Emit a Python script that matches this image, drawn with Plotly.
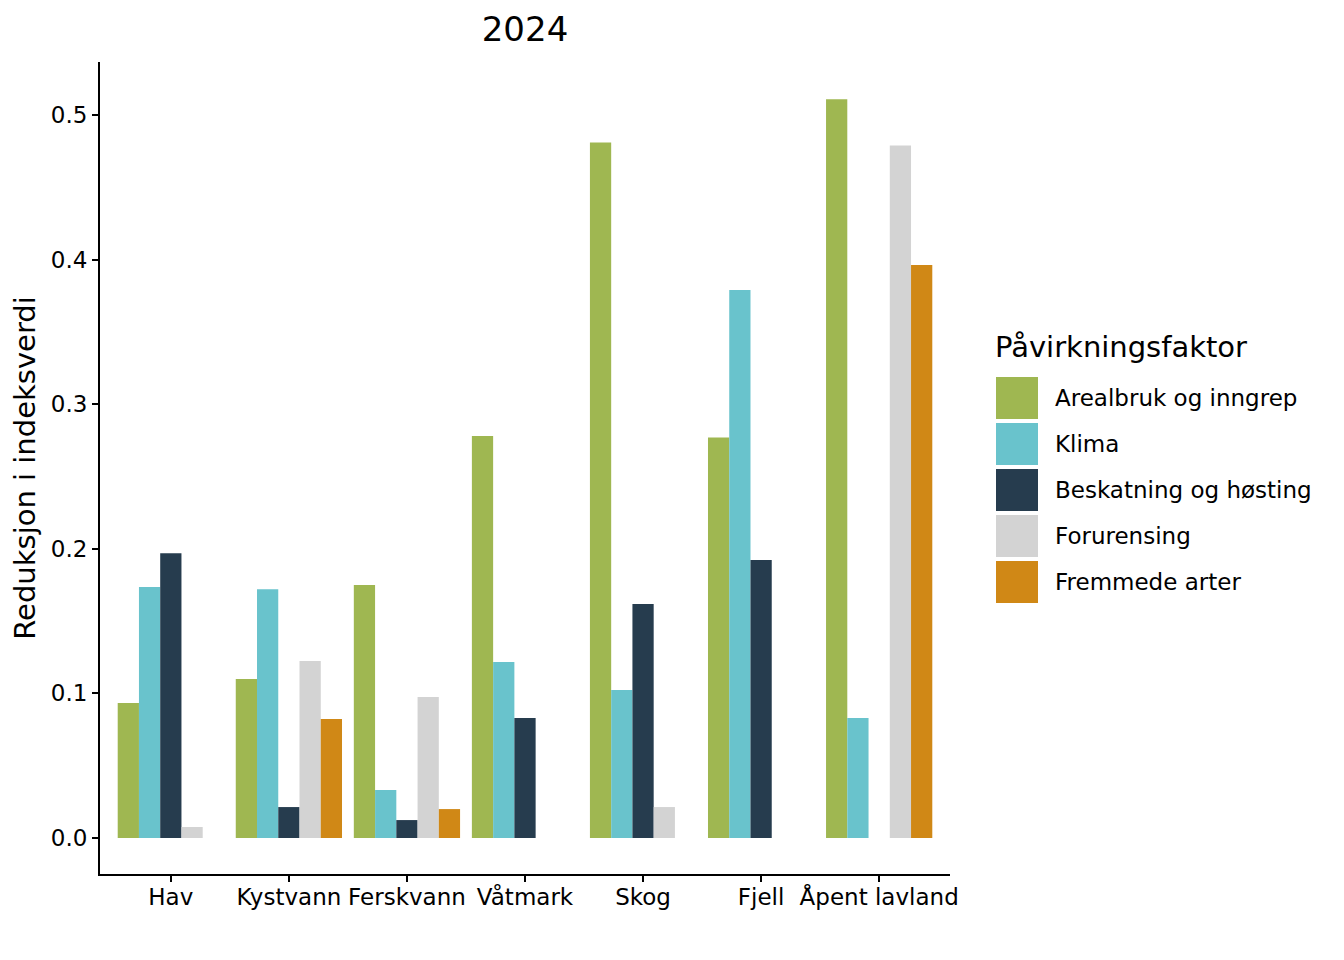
import plotly.graph_objects as go

categories = ["Hav", "Kystvann", "Ferskvann", "Våtmark", "Skog", "Fjell", "Åpent lavland"]
factors = ["Arealbruk og inngrep", "Klima", "Beskatning og høsting", "Forurensing", "Fremmede arter"]
colors = ["#9FB751", "#69C3CC", "#263C4E", "#D3D3D3", "#D08816"]

arealbruk = [0.0934, 0.110, 0.175, 0.278, 0.481, 0.277, 0.511]
klima = [0.1736, 0.172, 0.0332, 0.1217, 0.1023, 0.379, 0.083]
beskatning = [0.197, 0.0214, 0.0124, 0.083, 0.1618, 0.1923, None]
forurensing = [0.0076, 0.1224, 0.0975, None, 0.0214, None, 0.479]
fremmede = [None, 0.0823, 0.020, None, None, None, 0.3963]

series = [arealbruk, klima, beskatning, forurensing, fremmede]

W, H = 1344, 960
OFF = 8  # page body offset
l, t = 100 - OFF, 62 - OFF
pw, ph = 850, 812
r, b = W - l - pw, H - t - ph

fig = go.Figure()
for name, vals, col in zip(factors, series, colors):
    fig.add_trace(go.Bar(x=categories, y=vals, name=name, marker_color=col,
                         marker_line_width=0, showlegend=False))

fig.update_layout(
    width=W, height=H,
    paper_bgcolor="white", plot_bgcolor="white",
    font=dict(family="DejaVu Sans", size=23, color="black"),
    barmode="group", bargap=0.1, bargroupgap=0,
    margin=dict(l=l, r=r, t=t, b=b, autoexpand=False),
    title=dict(text="2024", x=(525 - OFF) / W, xanchor="center", y=1 - (29 - OFF) / H, yanchor="middle",
               font=dict(size=34, color="black")),
    xaxis=dict(range=[-0.6, 6.6], showline=True, linecolor="black", linewidth=2,
               ticks="outside", ticklen=6, tickwidth=2, tickcolor="black",
               ticklabelstandoff=-5,
               showgrid=False, zeroline=False, tickfont=dict(size=23, color="black")),
    yaxis=dict(range=[-0.0249, 0.5367], showline=True, linecolor="black", linewidth=2,
               ticks="outside", ticklen=6, tickwidth=2, tickcolor="black",
               tickvals=[0, 0.1, 0.2, 0.3, 0.4, 0.5], tickformat=".1f",
               showgrid=False, zeroline=False, tickfont=dict(size=23, color="black"),
               title=dict(text="Reduksjon i indeksverdi", font=dict(size=29, color="black"),
                          standoff=9)),
)


def px_x(x):
    return (x - OFF - l) / pw


def px_y(y):
    return (H - b - (y - OFF)) / ph


fig.add_annotation(x=px_x(993), y=px_y(347), xref="paper", yref="paper", text="Påvirkningsfaktor",
                   showarrow=False, xanchor="left", yanchor="middle",
                   font=dict(size=29, color="black"))
for i, (name, col) in enumerate(zip(factors, colors)):
    top = 377 + i * 46
    fig.add_shape(type="rect", xref="paper", yref="paper",
                  x0=px_x(996), x1=px_x(1038), y0=px_y(top + 42), y1=px_y(top),
                  fillcolor=col, line_width=0)
    fig.add_annotation(x=px_x(1053), y=px_y(top + 21), xref="paper", yref="paper", text=name,
                       showarrow=False, xanchor="left", yanchor="middle",
                       font=dict(size=23, color="black"))

fig.write_html("out.html")
